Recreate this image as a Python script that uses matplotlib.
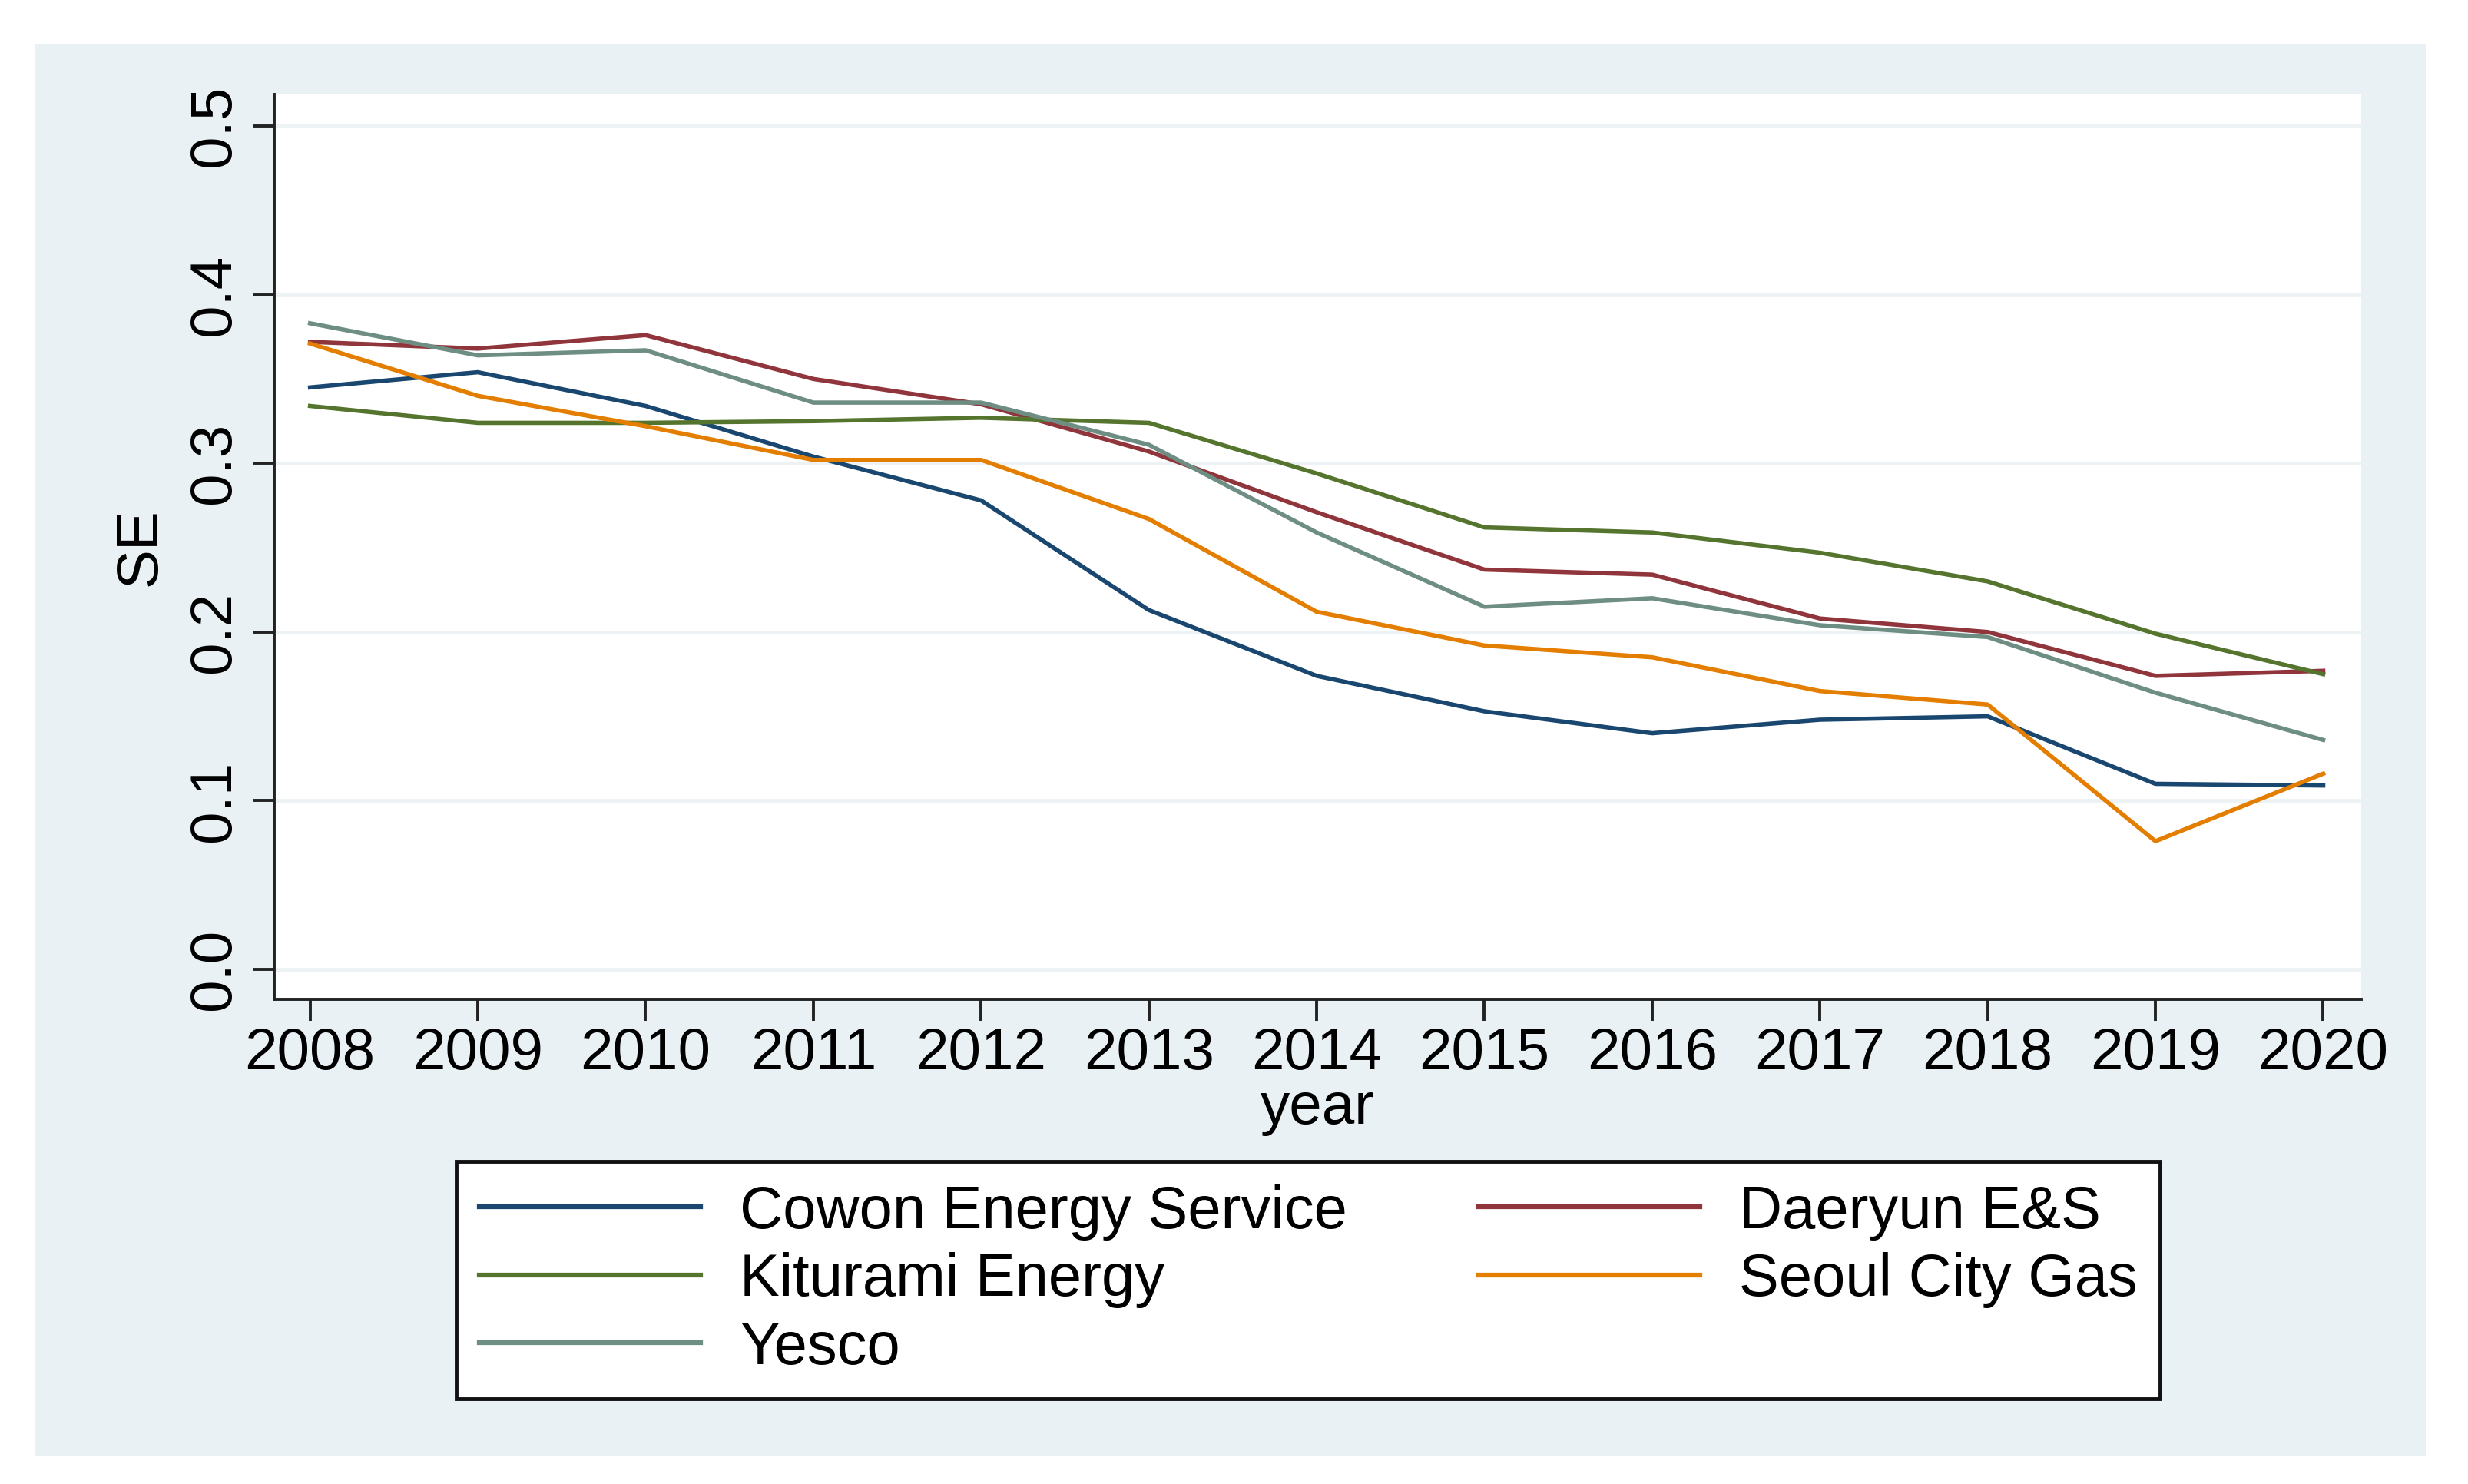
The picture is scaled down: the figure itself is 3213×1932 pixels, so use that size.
import matplotlib
matplotlib.use("Agg")
import matplotlib.pyplot as plt
from matplotlib.patches import Rectangle

years = [2008, 2009, 2010, 2011, 2012, 2013, 2014, 2015, 2016, 2017, 2018, 2019, 2020]
cowon = [0.345, 0.354, 0.334, 0.304, 0.278, 0.213, 0.174, 0.153, 0.140, 0.148, 0.150, 0.110, 0.109]
daeryun = [0.372, 0.368, 0.376, 0.350, 0.335, 0.307, 0.271, 0.237, 0.234, 0.208, 0.200, 0.174, 0.177]
kiturami = [0.334, 0.324, 0.324, 0.325, 0.327, 0.324, 0.294, 0.262, 0.259, 0.247, 0.230, 0.199, 0.175]
seoul = [0.371, 0.340, 0.322, 0.302, 0.302, 0.267, 0.212, 0.192, 0.185, 0.165, 0.157, 0.076, 0.116]
yesco = [0.383, 0.364, 0.367, 0.336, 0.336, 0.311, 0.259, 0.215, 0.220, 0.204, 0.197, 0.164, 0.136]
yticks = [0.0, 0.1, 0.2, 0.3, 0.4, 0.5]

plt.rcParams['font.family'] = ['Liberation Sans', 'DejaVu Sans']

W, H = 1568.0, 943.0
fig = plt.figure(figsize=(32.13, 19.32), dpi=100, facecolor='white')
bg = '#eaf1f5'
fig.patches.append(Rectangle((22 / W, 1 - 925 / H), (1541 - 22) / W, (925 - 28) / H,
                             transform=fig.transFigure, facecolor=bg, edgecolor='none', zorder=-10))

ax = fig.add_axes([174 / W, 1 - 635 / H, (1500 - 174) / W, (635 - 60) / H])
ax.set_zorder(1)
ax.set_facecolor('white')

lw = 4.0
l1, = ax.plot(years, cowon, color='#1a476f', lw=lw, label='Cowon Energy Service')
l2, = ax.plot(years, daeryun, color='#90353b', lw=lw, label='Daeryun E&S')
l3, = ax.plot(years, kiturami, color='#55752f', lw=lw, label='Kiturami Energy')
l4, = ax.plot(years, seoul, color='#e37e00', lw=lw, label='Seoul City Gas')
l5, = ax.plot(years, yesco, color='#6e8e84', lw=lw, label='Yesco')

ax.set_xlim(2008 - 23 / 106.6, 2020 + 24 / 106.6)
ax.set_ylim(-19 / 1072.0, 556 / 1072.0)
ax.set_xticks(years)
ax.set_xticklabels([str(y) for y in years])
ax.set_yticks(yticks)
ax.set_yticklabels([f"{v:.1f}" for v in yticks], rotation=90, va='center')

for s in ['top', 'right']:
    ax.spines[s].set_visible(False)
for s in ['left', 'bottom']:
    ax.spines[s].set_linewidth(2.8)
    ax.spines[s].set_color('#222222')

ax.tick_params(axis='both', which='major', labelsize=55, width=2.8, length=20,
               color='#222222', direction='out')
ax.tick_params(axis='x', pad=6)
ax.tick_params(axis='y', pad=10)
ax.yaxis.grid(True, color='#edf3f4', lw=3.5)
ax.set_axisbelow(True)

ax.set_ylabel('SE', fontsize=55, labelpad=18)
ax.set_xlabel('year', fontsize=55, labelpad=0)

leg = fig.legend([l1, l3, l5, l2, l4],
                 ['Cowon Energy Service', 'Kiturami Energy', 'Yesco', 'Daeryun E&S', 'Seoul City Gas'],
                 ncol=2, loc='upper left',
                 bbox_to_anchor=(290 / W, 1 - 738 / H),
                 bbox_transform=fig.transFigure,
                 fontsize=56, frameon=True, fancybox=False, handlelength=3.7,
                 handletextpad=0.66, labelspacing=0.2, columnspacing=2.2,
                 borderpad=0.38, borderaxespad=0)
for h in leg.get_lines():
    h.set_linewidth(4.5)
fr = leg.get_frame()
fr.set_edgecolor('#111111')
fr.set_linewidth(3.5)
fr.set_facecolor('white')
fr.set_alpha(1)

fig.savefig('out.png', dpi=100, facecolor='white')
